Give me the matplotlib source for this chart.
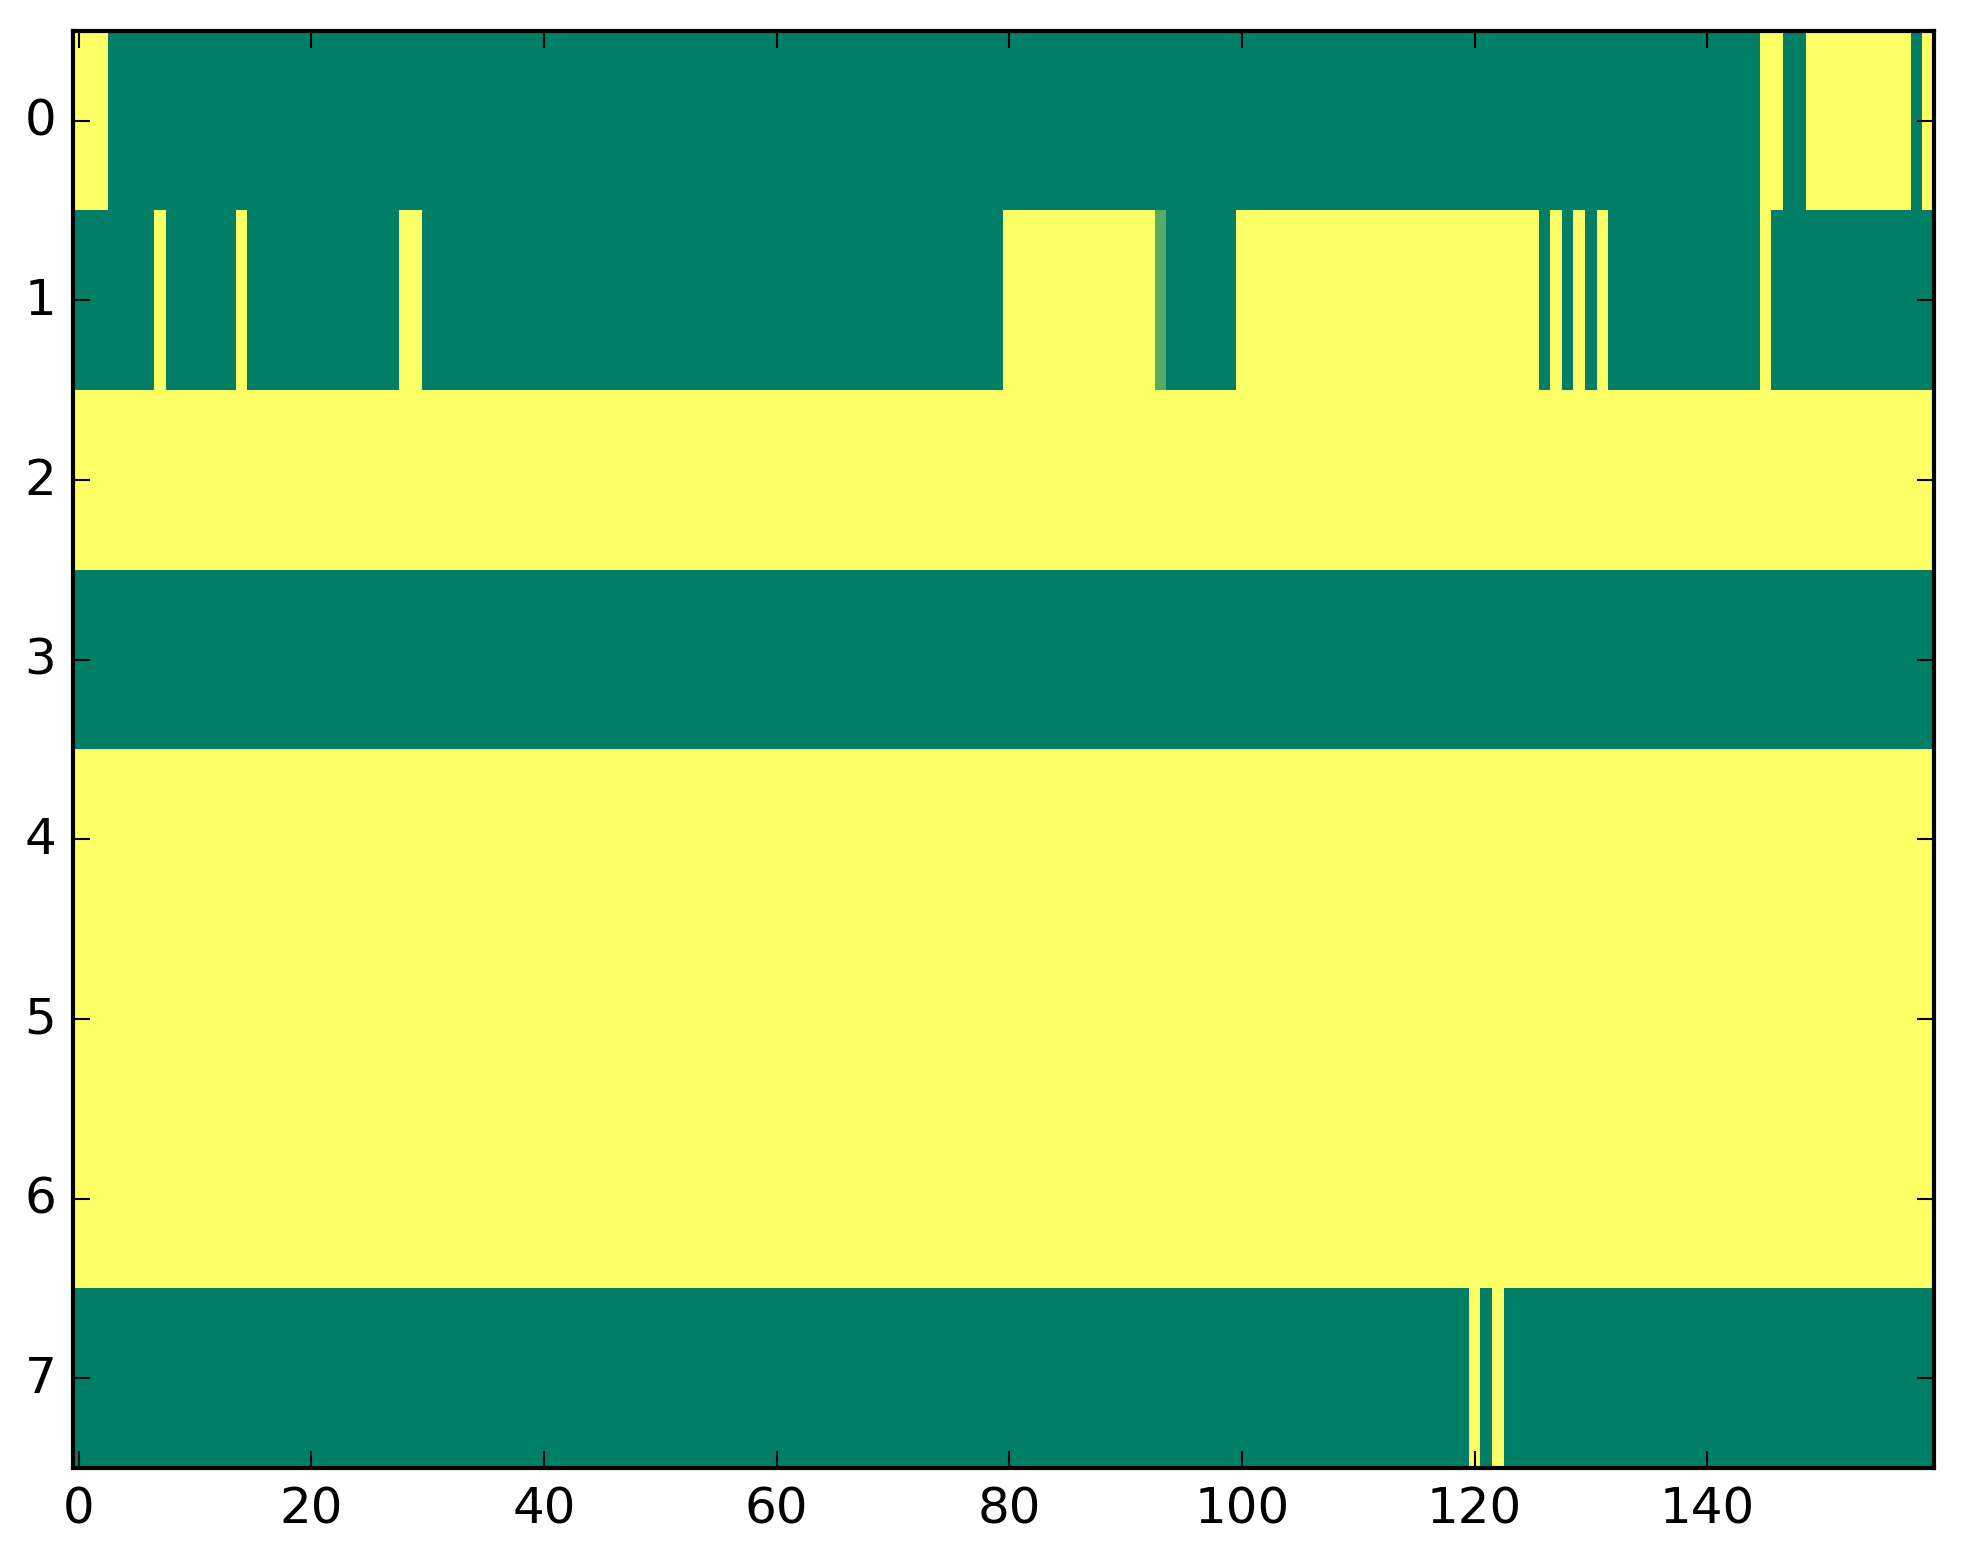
import numpy as np
import matplotlib
matplotlib.use("Agg")
import matplotlib.pyplot as plt

# each row written as runs of (value, length)
row0 = [(1, 3), (0, 142), (1, 2), (0, 2), (1, 9), (0, 1), (1, 1)]
row1 = [(0, 7), (1, 1), (0, 6), (1, 1), (0, 13), (1, 2), (0, 50), (1, 13),
        (0.35, 1), (0, 6), (1, 26), (0, 1), (1, 1), (0, 1), (1, 1), (0, 1),
        (1, 1), (0, 13), (1, 1), (0, 14)]
row2 = [(1, 160)]
row3 = [(0, 160)]
row4 = [(1, 160)]
row5 = [(1, 160)]
row6 = [(1, 160)]
row7 = [(0, 120), (1, 1), (0, 1), (1, 1), (0, 37)]
rows = [row0, row1, row2, row3, row4, row5, row6, row7]


def expand(runs):
    vals = [v for v, n in runs]
    counts = [n for v, n in runs]
    return np.repeat(vals, counts)


grid = np.array([expand(r) for r in rows], dtype=float)

plt.style.use("classic")
fig = plt.figure(figsize=(1963 / 300, 1564 / 300), dpi=300)
ax = fig.add_axes([73 / 1963, 95 / 1564, 1861 / 1963, 1437 / 1564])

ax.imshow(grid, cmap="summer", vmin=0, vmax=1,
          interpolation="nearest", aspect="auto")
ax.set_yticks(range(grid.shape[0]))
ax.set_xticks(range(0, 160, 20))

fig.savefig("out.png", dpi=300)
